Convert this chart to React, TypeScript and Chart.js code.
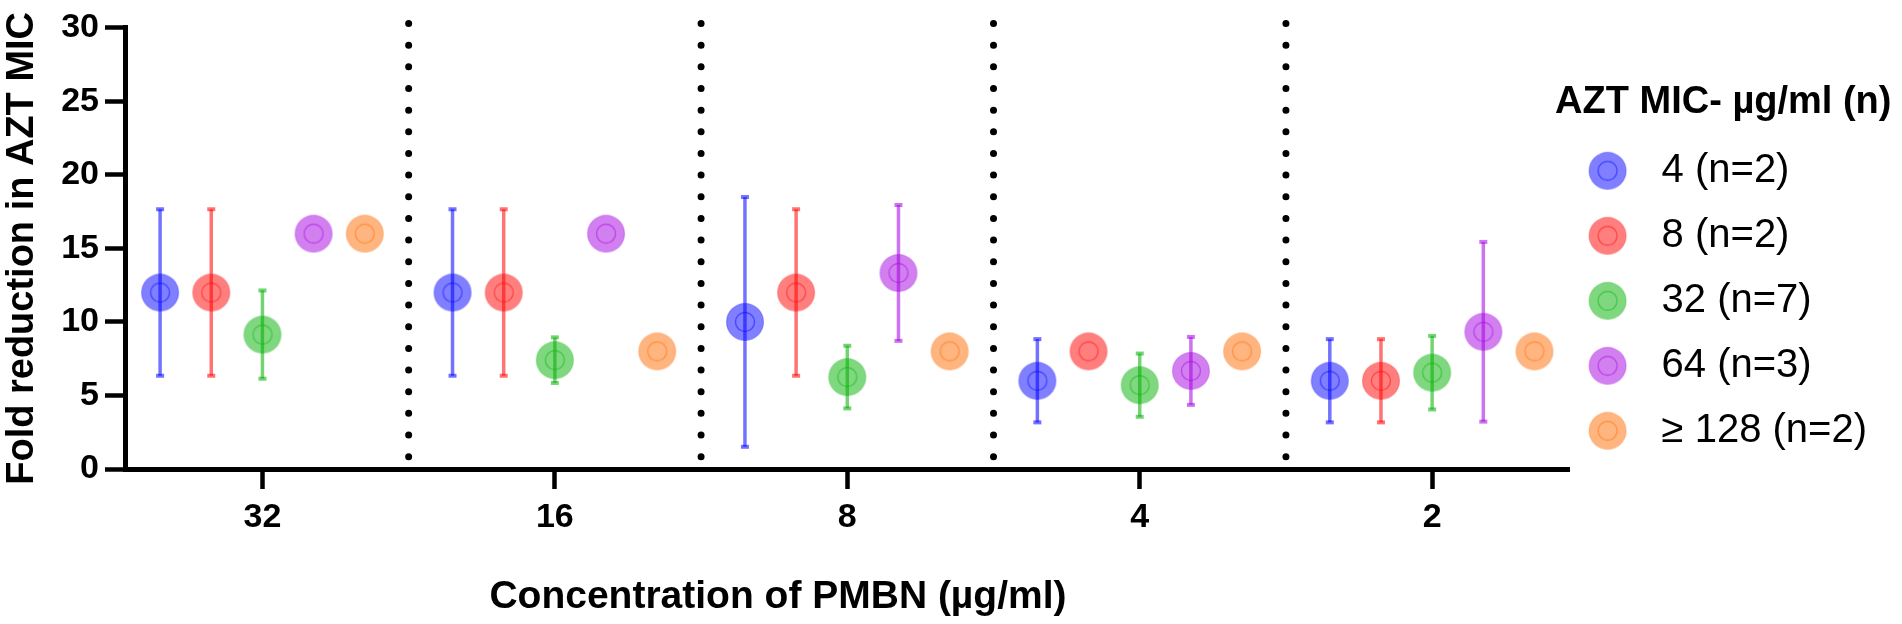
import { useEffect, useRef } from "react";
import { Chart, registerables } from "chart.js";

Chart.register(...registerables);

// PMBN concentrations (µg/ml), one group each on the x axis
const concentrations = ["32", "16", "8", "4", "2"];

// AZT MIC groups shown in the legend
const seriesLabels = ["4 (n=2)", "8 (n=2)", "32 (n=7)", "64 (n=3)", "≥ 128 (n=2)"];
const seriesColors = ["0, 0, 255", "255, 0, 0", "0, 177, 0", "165, 0, 225", "255, 107, 0"];

// mean fold reduction in AZT MIC, per PMBN concentration
const mic4Mean = [12, 12, 10, 6, 6];
const mic8Mean = [12, 12, 12, 8, 6];
const mic32Mean = [9.14, 7.4, 6.25, 5.7, 6.55];
const mic64Mean = [16, 16, 13.33, 6.67, 9.33];
const mic128Mean = [16, 8, 8, 8, 8];

// SD for the error bars (0 = no bar drawn)
const mic4Sd = [5.66, 5.66, 8.49, 2.83, 2.83];
const mic8Sd = [5.66, 5.66, 5.66, 0, 2.83];
const mic32Sd = [3.0, 1.55, 2.13, 2.15, 2.5];
const mic64Sd = [0, 0, 4.62, 2.31, 6.11];
const mic128Sd = [0, 0, 0, 0, 0];

const yTicks = [0, 5, 10, 15, 20, 25, 30];

const means = [mic4Mean, mic8Mean, mic32Mean, mic64Mean, mic128Mean];
const sds = [mic4Sd, mic8Sd, mic32Sd, mic64Sd, mic128Sd];

const FONT = "'Liberation Sans', Arial, sans-serif";
const DODGE = 0.175;
const LEGEND_TITLE = "AZT MIC- µg/ml (n)";

function makeMarker(rgb: string, width: number, cx: number) {
  const c = document.createElement("canvas");
  c.width = width;
  c.height = 40;
  const ctx = c.getContext("2d")!;
  ctx.beginPath();
  ctx.arc(cx, 20, 18.5, 0, Math.PI * 2);
  ctx.fillStyle = `rgba(${rgb}, 0.5)`;
  ctx.fill();
  ctx.lineWidth = 1.2;
  ctx.strokeStyle = `rgba(${rgb}, 0.3)`;
  ctx.stroke();
  ctx.beginPath();
  ctx.arc(cx, 20, 9.5, 0, Math.PI * 2);
  ctx.lineWidth = 1.4;
  ctx.strokeStyle = `rgba(${rgb}, 0.45)`;
  ctx.stroke();
  return c;
}

const errorBars = {
  id: "errorBars",
  beforeDatasetsDraw(chart: any) {
    const { ctx } = chart;
    const xs = chart.scales.x;
    const ys = chart.scales.y;
    chart.data.datasets.forEach((ds: any) => {
      if (!ds.sd) return;
      ctx.save();
      ctx.strokeStyle = ds.barColor;
      ctx.fillStyle = ds.barColor;
      ctx.lineWidth = 3.5;
      ds.data.forEach((p: any, j: number) => {
        const sd = ds.sd[j];
        if (!sd) return;
        const px = xs.getPixelForValue(p.x);
        const top = ys.getPixelForValue(p.y + sd);
        const bot = ys.getPixelForValue(p.y - sd);
        ctx.beginPath();
        ctx.moveTo(px, top);
        ctx.lineTo(px, bot);
        ctx.stroke();
        ctx.fillRect(px - 4, top - 2, 8, 4);
        ctx.fillRect(px - 4, bot - 2, 8, 4);
      });
      ctx.restore();
    });
  },
};

// axis title under the x axis and the legend heading (legend box clips wide titles)
const extraText = {
  id: "extraText",
  afterDraw(chart: any) {
    const { ctx, chartArea, legend } = chart;
    ctx.save();
    ctx.fillStyle = "#000";
    ctx.textAlign = "center";
    ctx.textBaseline = "middle";
    ctx.font = `bold 39px ${FONT}`;
    ctx.fillText(
      "Concentration of PMBN (µg/ml)",
      chartArea.left + (chartArea.right - chartArea.left) * 0.452,
      chartArea.bottom + 128
    );
    ctx.font = `bold 38px ${FONT}`;
    ctx.fillText(LEGEND_TITLE, legend.left + legend.width / 2, legend.top + 84 + 19);
    ctx.restore();
  },
};

export default function App() {
  const canvasRef = useRef<HTMLCanvasElement | null>(null);

  useEffect(() => {
    if (canvasRef.current == null) return;

    const markers = seriesColors.map((c) => makeMarker(c, 40, 20));
    const legendMarkers = seriesColors.map((c) => makeMarker(c, 62, 20.5));

    const pointSets = means.map((vals, s) => ({
      type: "scatter" as const,
      label: seriesLabels[s],
      data: vals.map((v, i) => ({ x: i + (s - 2) * DODGE, y: v })),
      sd: sds[s],
      barColor: `rgba(${seriesColors[s]}, 0.55)`,
      pointStyle: markers[s],
      pointRadius: 19,
      backgroundColor: `rgba(${seriesColors[s]}, 0.5)`,
      borderColor: `rgba(${seriesColors[s]}, 0.5)`,
    }));

    // dotted separators between concentration groups
    const separators = concentrations.slice(1).map((_, i) => ({
      type: "line" as const,
      label: "",
      data: [
        { x: i + 0.5, y: 30.29 },
        { x: i + 0.5, y: 0 },
      ],
      showLine: true,
      pointRadius: 0,
      borderColor: "#000",
      borderWidth: 7,
      borderDash: [0, 21.66],
      borderCapStyle: "round" as const,
      clip: false as any,
    }));

    const chart = new Chart(canvasRef.current, {
      type: "scatter",
      data: { datasets: [...separators, ...pointSets] as any },
      plugins: [errorBars, extraText],
      options: {
        animation: false,
        responsive: true,
        maintainAspectRatio: false,
        events: [],
        layout: { padding: { top: 0, right: 25, bottom: 0, left: 0 } },
        font: { family: FONT },
        plugins: {
          tooltip: { enabled: false },
          legend: {
            position: "right",
            align: "start",
            // blank title keeps the room; the text itself is drawn by extraText
            title: {
              display: true,
              text: " ",
              color: "#000",
              font: { family: FONT, size: 38, weight: "bold", lineHeight: 1.1 },
              padding: { top: 84, bottom: 0 },
            },
            labels: {
              usePointStyle: true,
              pointStyleWidth: 47,
              padding: 25,
              color: "#000",
              font: { family: FONT, size: 40 },
              generateLabels: () =>
                seriesLabels.map((text, i) => ({
                  text,
                  fillStyle: `rgba(${seriesColors[i]}, 0.5)`,
                  strokeStyle: `rgba(${seriesColors[i]}, 0.5)`,
                  lineWidth: 0,
                  pointStyle: legendMarkers[i] as any,
                  hidden: false,
                  datasetIndex: separators.length + i,
                  fontColor: "#000",
                })),
            },
          },
        },
        scales: {
          x: {
            type: "linear",
            min: -0.47,
            max: 4.47,
            afterFit: (scale: any) => {
              scale.height = 155;
            },
            afterBuildTicks: (scale: any) => {
              scale.ticks = concentrations.map((_, i) => ({ value: i }));
            },
            ticks: {
              color: "#000",
              padding: 8,
              font: { family: FONT, size: 34, weight: "bold" },
              callback: (v: any) => concentrations[Math.round(Number(v))],
            },
            grid: {
              display: true,
              drawOnChartArea: false,
              drawTicks: true,
              tickLength: 20,
              tickWidth: 4.5,
              tickColor: "#000",
            },
            border: { display: true, color: "#000", width: 5 },
          },
          y: {
            type: "linear",
            min: yTicks[0],
            max: yTicks[yTicks.length - 1],
            afterFit: (scale: any) => {
              scale.width = 125;
            },
            afterBuildTicks: (scale: any) => {
              scale.ticks = yTicks.map((v) => ({ value: v }));
            },
            ticks: {
              color: "#000",
              padding: 6,
              font: { family: FONT, size: 34, weight: "bold", lineHeight: 1.28 },
            },
            title: {
              display: true,
              text: "Fold reduction in AZT MIC",
              color: "#000",
              padding: 0,
              font: { family: FONT, size: 38, weight: "bold" },
            },
            grid: {
              display: true,
              drawOnChartArea: false,
              drawTicks: true,
              tickLength: 20,
              tickWidth: 4.5,
              tickColor: "#000",
            },
            border: { display: true, color: "#000", width: 5 },
          },
        },
      },
    });

    return () => {
      chart.destroy();
    };
  }, []);

  return (
    <div
      style={{
        position: "fixed",
        left: 0,
        top: 0,
        width: "1902px",
        height: "624px",
        background: "#fff",
      }}
    >
      <canvas ref={canvasRef}></canvas>
    </div>
  );
}
